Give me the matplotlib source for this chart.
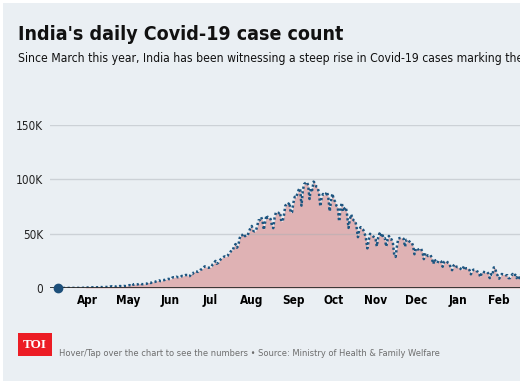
import numpy as np
import pandas as pd
import matplotlib
matplotlib.use("Agg")
import matplotlib.pyplot as plt
from matplotlib.patches import Rectangle

# daily new cases, thousands (from 10 Mar 2020)
mar = [0.01, 0.01, 0.01, 0.01, 0.02, 0.01, 0.02, 0.02, 0.03, 0.04, 0.08, 0.07, 0.09, 0.10, 0.08, 0.09,
       0.16, 0.15, 0.11, 0.23, 0.15, 0.60]
apr = [0.42, 0.49, 0.56, 0.58, 0.61, 0.48, 0.57, 0.57, 0.81, 0.87, 0.85, 0.76, 1.24, 1.03, 0.89, 1.06,
       0.92, 1.37, 1.58, 1.24, 1.54, 1.29, 1.67, 1.41, 1.84, 1.61, 1.57, 1.90, 1.71, 1.80]
may = [2.4, 2.6, 2.5, 3.9, 3.0, 3.6, 3.3, 3.3, 3.6, 4.2, 3.6, 3.5, 3.7, 3.8, 3.9, 4.9, 5.0, 4.6, 5.6,
       5.5, 5.6, 6.2, 6.7, 7.1, 6.4, 6.4, 7.3, 7.3, 7.9, 8.0, 8.4]
jun = [8.2, 8.2, 9.6, 9.9, 9.8, 10.4, 9.9, 10.0, 10.0, 11.1, 10.9, 11.6, 12.0, 11.9, 10.7, 11.0, 13.1,
       12.9, 14.5, 15.4, 15.2, 14.8, 15.7, 16.9, 17.3, 18.2, 19.9, 19.4, 18.7, 18.6]
jul = [19.1, 19.2, 21.9, 22.8, 24.9, 22.3, 23.1, 24.9, 26.5, 27.8, 28.6, 29.1, 28.7, 29.4, 31.9, 32.7,
       35.0, 34.9, 38.9, 40.4, 37.1, 38.9, 45.7, 48.9, 48.6, 49.9, 47.7, 49.0, 48.5, 52.1, 55.1]
aug = [57.1, 52.9, 52.1, 52.5, 56.3, 62.2, 62.5, 65.2, 62.1, 53.6, 60.9, 67.0, 64.6, 65.0, 63.5, 57.9,
       55.1, 64.5, 69.7, 69.0, 68.9, 69.9, 61.4, 61.4, 67.2, 75.8, 77.3, 76.5, 78.8, 69.2, 69.9]
sep = [78.4, 83.9, 83.3, 87.1, 90.6, 91.7, 75.8, 89.7, 95.7, 96.6, 97.6, 94.4, 81.9, 92.1, 90.1, 97.9,
       96.4, 93.3, 92.6, 87.4, 75.1, 83.3, 86.5, 85.4, 86.1, 88.6, 83.0, 70.6, 80.5, 86.8]
oct_ = [81.5, 79.5, 75.8, 74.4, 61.3, 72.0, 78.5, 70.5, 73.3, 74.4, 66.7, 55.3, 63.5, 67.7, 63.4, 62.2,
        61.9, 55.7, 46.8, 54.0, 56.0, 54.4, 53.4, 50.1, 45.1, 36.5, 43.9, 49.9, 48.6, 47.6, 46.9]
nov = [46.0, 38.3, 46.3, 50.2, 47.6, 50.4, 45.7, 45.9, 38.1, 44.3, 47.9, 44.9, 44.7, 41.1, 30.5, 28.6,
       38.6, 45.6, 45.9, 46.2, 46.2, 45.2, 37.9, 44.4, 44.5, 43.1, 41.8, 41.8, 38.8, 31.1]
dec = [36.6, 35.6, 35.5, 36.6, 36.0, 32.9, 26.6, 32.1, 31.5, 29.4, 30.0, 30.3, 27.1, 22.1, 26.4, 24.0,
       22.9, 25.2, 25.1, 24.3, 19.6, 23.9, 24.7, 24.7, 23.1, 22.3, 18.7, 16.4, 20.5, 21.8, 20.0]
jan = [19.1, 19.1, 18.2, 16.5, 18.1, 20.3, 18.1, 18.2, 18.2, 16.3, 12.6, 15.9, 16.9, 16.9, 15.6, 15.1,
       13.8, 10.0, 13.8, 15.2, 14.5, 14.3, 14.8, 13.2, 9.1, 12.7, 11.7, 18.9, 18.9, 13.1, 11.4]
feb = [8.6, 11.0, 12.9, 12.4, 12.4, 11.7, 11.8, 9.1, 9.1, 11.1, 12.9, 11.1, 12.2, 9.1, 11.6, 9.1,
       11.6, 13.2]

cases = np.array(mar + apr + may + jun + jul + aug + sep + oct_ + nov + dec + jan + feb) * 1000
dates = pd.date_range("2020-03-10", periods=len(cases), freq="D")

month_ticks = pd.date_range("2020-04-01", "2021-02-01", freq="MS")
month_labels = ["Apr", "May", "Jun", "Jul", "Aug", "Sep", "Oct", "Nov", "Dec", "Jan", "Feb"]
y_ticks = [0, 50000, 100000, 150000]
y_labels = ["0", "50K", "100K", "150K"]

title = "India's daily Covid-19 case count"
subtitle = ("Since March this year, India has been witnessing a steep rise in Covid-19 cases "
            "marking the advent")
footer = "Hover/Tap over the chart to see the numbers \u2022 Source: Ministry of Health & Family Welfare"

BG = "#eaeff3"
FONT = dict(family=["DejaVu Sans"], fontstretch="condensed")

W, H = 520, 383
fig = plt.figure(figsize=(W / 100, H / 100), dpi=100, facecolor="white")
fig.patches.append(Rectangle((3 / W, 2 / H), 1, 1 - 5 / H, transform=fig.transFigure,
                             facecolor=BG, edgecolor="none", zorder=-10))

ax = fig.add_axes([50 / W, 1 - 288 / H, 1 - 50 / W, (288 - 125) / H])
ax.set_facecolor("none")
for s in ax.spines.values():
    s.set_visible(False)

ax.fill_between(dates, cases, color="#dfb2b4", lw=0, zorder=1)
for y in y_ticks[1:]:
    ax.axhline(y, color="#a9aeb3", alpha=0.45, lw=1, zorder=2)
ax.plot(dates, cases, ls=(0, (0.9, 1.0)), lw=1.8, color="#1d5580", zorder=3)
ax.plot(dates[:1], cases[:1], ls="none", marker="o", ms=6, color="#1d4f7a", zorder=4, clip_on=False)
ax.axhline(0, color="#2b2b2b", lw=1.3, zorder=3)

ax.set_xlim(pd.Timestamp("2020-03-04"), pd.Timestamp("2021-02-16 12:00"))
ax.set_ylim(0, 150000)
ax.set_xticks(month_ticks)
ax.set_xticklabels(month_labels, fontweight="bold", fontsize=8.5, **FONT)
ax.set_yticks(y_ticks)
ax.set_yticklabels(y_labels, fontsize=8.5, color="#222222", **FONT)
ax.tick_params(axis="both", length=0)
ax.tick_params(axis="x", pad=4)
ax.tick_params(axis="y", pad=5)

fig.text(18 / W, 1 - 40 / H, title, fontsize=14, fontweight="bold", color="#111111",
         va="baseline", **FONT)
fig.text(18 / W, 1 - 62 / H, subtitle, fontsize=8.7, color="#111111", va="baseline", **FONT)

fig.patches.append(Rectangle((18 / W, 1 - 356 / H), 34 / W, 23 / H, transform=fig.transFigure,
                             facecolor="#ec1c24", edgecolor="none"))
fig.text(35 / W, 1 - 345 / H, "TOI", fontsize=9.5, fontweight="bold", color="white",
         family=["Liberation Serif", "DejaVu Serif"], ha="center", va="center")
fig.text(59 / W, 1 - 356 / H, footer, fontsize=6.7, color="#6e6e6e", va="baseline", **FONT)

fig.savefig("out.png", dpi=100, facecolor="white")
